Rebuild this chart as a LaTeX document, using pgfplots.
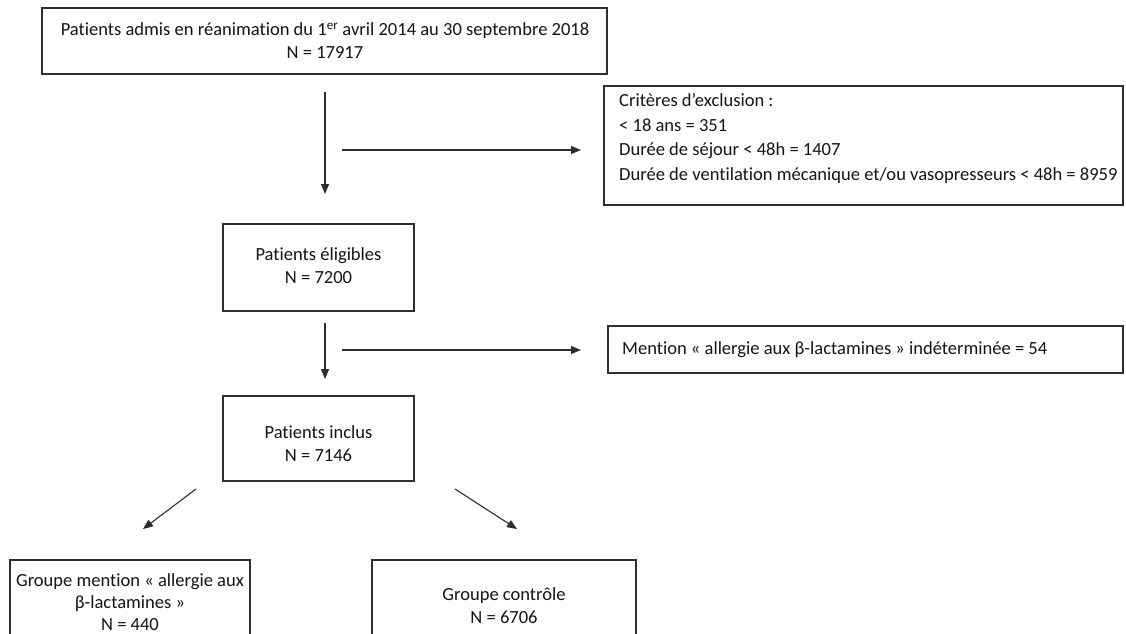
\documentclass[border=0pt]{standalone}
\usepackage{fontspec}
\setmainfont{Carlito}[Ligatures=NoCommon]
\usepackage{pgfplots}
\pgfplotsset{compat=1.18}
\usetikzlibrary{arrows.meta}
\definecolor{boxc}{HTML}{2E2E2E}
\definecolor{txt}{HTML}{151515}
\begin{document}
\begin{tikzpicture}
\begin{axis}[
  width=1126bp, height=634bp, scale only axis,
  xmin=0, xmax=1126, ymin=0, ymax=634, y dir=reverse,
  hide axis, clip=true,
]
\fill[white] (axis cs:0,0) rectangle (axis cs:1126,634);
\tikzset{bx/.style={draw=boxc, line width=1.5bp},
  tx/.style={text=txt, font=\fontsize{18.6}{23}\selectfont, inner sep=0pt},
  ar/.style={draw=boxc, line width=1.1bp, -{Triangle[length=10bp,width=8bp]}}}
% boxes
\draw[bx] (axis cs:42,8) rectangle (axis cs:607,74);
\draw[bx] (axis cs:604,86) rectangle (axis cs:1123,205);
\draw[bx] (axis cs:223,224) rectangle (axis cs:414,311);
\draw[bx] (axis cs:608,326) rectangle (axis cs:1123,373);
\draw[bx] (axis cs:223,396) rectangle (axis cs:414,481);
\draw[bx] (axis cs:10,640) -- (axis cs:10,560) -- (axis cs:250,560) -- (axis cs:250,640);
\draw[bx] (axis cs:372,640) -- (axis cs:372,560) -- (axis cs:636,560) -- (axis cs:636,640);
% arrows
\addplot[ar] coordinates {(325,92) (325,194)};
\addplot[ar] coordinates {(342,150) (581,150)};
\addplot[ar] coordinates {(325,323) (325,379)};
\addplot[ar] coordinates {(342,350) (581,350)};
\addplot[ar] coordinates {(196,489) (143,529)};
\addplot[ar] coordinates {(455,489) (517,529)};
% texts
\node[tx, align=center] at (axis cs:325,40.5) {Patients admis en réanimation du 1\textsuperscript{er} avril 2014 au 30 septembre 2018\\N = 17917};
\node[tx, align=left, anchor=west, font=\fontsize{18.6}{25}\selectfont] at (axis cs:619,138.5) {Critères d’exclusion :\\< 18 ans = 351\\Durée de séjour < 48h = 1407\\Durée de ventilation mécanique et/ou vasopresseurs < 48h = 8959};
\node[tx, align=center] at (axis cs:318.5,265.5) {Patients éligibles\\N = 7200};
\node[tx, anchor=west] at (axis cs:622,350) {Mention « allergie aux β-lactamines » indéterminée = 54};
\node[tx, align=center] at (axis cs:318.5,444) {Patients inclus\\N = 7146};
\node[tx, align=center, font=\fontsize{18.6}{22}\selectfont] at (axis cs:130,602) {Groupe mention « allergie aux\\β-lactamines »\\N = 440};
\node[tx, align=center] at (axis cs:504,606) {Groupe contrôle\\N = 6706};
\end{axis}
\end{tikzpicture}
\end{document}
